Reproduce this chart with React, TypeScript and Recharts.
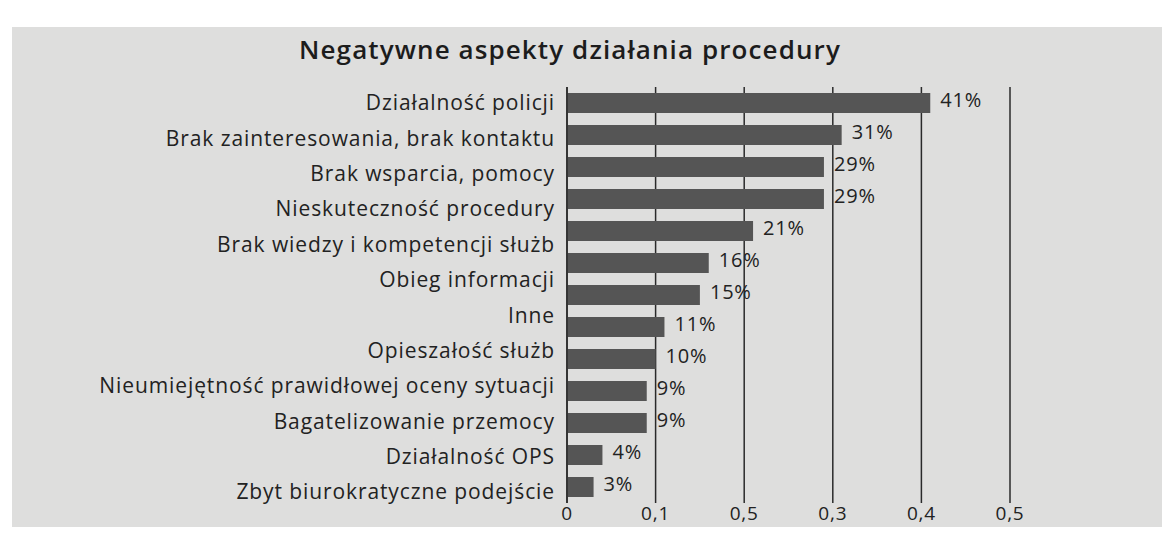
import { BarChart, Bar, XAxis, YAxis, CartesianGrid, LabelList } from 'recharts';

// the original prints 12 category names next to 13 bars, spaced differently
const rowLabels = [
  'Działalność policji',
  'Brak zainteresowania, brak kontaktu',
  'Brak wsparcia, pomocy',
  'Nieskuteczność procedury',
  'Brak wiedzy i kompetencji służb',
  'Obieg informacji',
  'Inne',
  'Opieszałość służb',
  'Nieumiejętność prawidłowej oceny sytuacji',
  'Bagatelizowanie przemocy',
  'Działalność OPS',
  'Zbyt biurokratyczne podejście',
];
const shares = [0.41, 0.31, 0.29, 0.29, 0.21, 0.16, 0.15, 0.11, 0.1, 0.09, 0.09, 0.04, 0.03];
const tickValues = [0, 0.1, 0.2, 0.3, 0.4, 0.5];
const tickLabels = ['0', '0,1', '0,5', '0,3', '0,4', '0,5'];
const labelDomain: [number, number] = [-0.45, 11.31];

const title = 'Negatywne aspekty działania procedury';
const font = '"Open Sans", sans-serif';

export default function App() {
  const data = shares.map((v, i) => ({ idx: i, v }));
  const labelTicks = rowLabels.map((_, i) => i);

  return (
    <div style={{ position: 'absolute', left: 0, top: 0, width: 1162, height: 541, background: '#ffffff', overflow: 'hidden' }}>
      <div style={{ position: 'absolute', left: 12, top: 27, right: 0, bottom: 14, background: '#dededd' }} />
      <div
        style={{
          position: 'absolute',
          left: 0,
          width: 1140,
          top: 33,
          textAlign: 'center',
          fontFamily: font,
          fontWeight: 600,
          fontSize: 26,
          letterSpacing: 1.1,
          color: '#1c1c1c',
          lineHeight: '32px',
        }}
      >
        {title}
      </div>
      <div style={{ position: 'absolute', left: 0, top: 0 }}>
        <BarChart
          width={1162}
          height={541}
          data={data}
          layout="vertical"
          margin={{ top: 87, right: 152, bottom: 8, left: 0 }}
          barCategoryGap={6}
        >
          <CartesianGrid horizontal={false} vertical yAxisId="bars" stroke="#2a2a2a" strokeWidth={1.5} />
          <XAxis
            type="number"
            domain={[0, 0.5]}
            ticks={tickValues}
            tickFormatter={(v: number) => tickLabels[tickValues.indexOf(v)] ?? ''}
            axisLine={false}
            tickLine={false}
            tickSize={0}
            tickMargin={4}
            height={30}
            tick={{ fill: '#222', fontSize: 19, fontFamily: font, letterSpacing: 0.8 }}
          />
          <YAxis yAxisId="bars" type="category" dataKey="idx" hide width={0} />
          <YAxis
            yAxisId="labels"
            type="number"
            dataKey="idx"
            domain={labelDomain}
            allowDataOverflow
            ticks={labelTicks}
            interval={0}
            tickFormatter={(i: number) => rowLabels[i] ?? ''}
            width={567}
            axisLine={{ stroke: '#2a2a2a', strokeWidth: 1.5 }}
            tickLine={false}
            tickSize={0}
            tickMargin={12}
            tick={{ fill: '#222', fontSize: 21, fontFamily: font, letterSpacing: 0.9 }}
          />
          <Bar yAxisId="bars" dataKey="v" fill="#555555" barSize={20} isAnimationActive={false}>
            <LabelList
              dataKey="v"
              position="right"
              offset={10}
              formatter={(v: number) => `${Math.round(v * 100)}%`}
              style={{ fill: '#222', fontSize: 20, fontFamily: font, letterSpacing: 0.8, transform: 'translateY(-3px)' }}
            />
          </Bar>
        </BarChart>
      </div>
    </div>
  );
}
